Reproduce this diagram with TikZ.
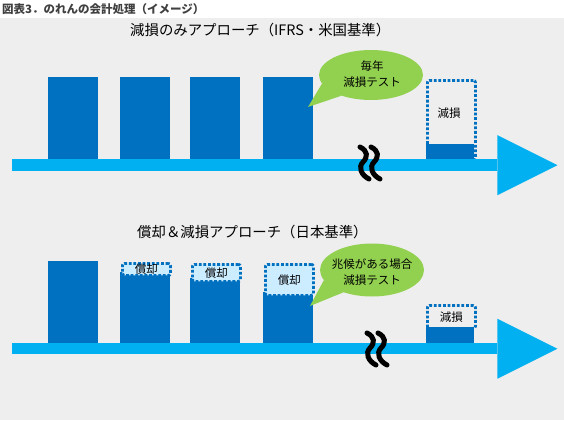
\documentclass[tikz,border=0pt]{standalone}
\usepackage{fontspec}
\setmainfont{Noto Sans CJK JP}
\usetikzlibrary{shapes.geometric}
\definecolor{bg}{HTML}{EEEEEE}
\definecolor{dblue}{HTML}{0070C0}
\definecolor{lblue}{HTML}{00B0F0}
\definecolor{pale}{HTML}{CCECFF}
\definecolor{grn}{HTML}{92D050}
\definecolor{hdr}{HTML}{404040}
\begin{document}
\begin{tikzpicture}[x=1pt,y=-1pt,
  bar/.style={rectangle, fill=dblue, draw=none, minimum width=50pt, inner sep=0pt, anchor=north west},
  dbox/.style={rectangle, rounded corners=2pt, draw=dblue, line width=2.8pt, dash pattern=on 2.8pt off 1.8pt, minimum width=48pt, inner sep=0pt, anchor=north west, font=\fontsize{11.5}{12}\selectfont},
  axisbar/.style={rectangle, fill=lblue, draw=none, minimum width=485pt, minimum height=12pt, inner sep=0pt, anchor=north west},
  balloon/.style={ellipse, fill=grn, draw=none, inner sep=0pt},
  btext/.style={align=center, font=\fontsize{11.5}{16}\selectfont, inner sep=0pt},
  ttl/.style={anchor=west, inner sep=0pt, font=\fontsize{14.4}{18}\selectfont},
  squig/.style={line width=5pt, black, line cap=round}
]
\useasboundingbox (0,0) rectangle (564,420);
\fill[white] (0,0) rectangle (564,18);
\fill[bg] (0,18) rectangle (564,420);

% header
\node[anchor=west, inner sep=0pt, text=hdr, font=\bfseries\fontsize{11.5}{12}\selectfont] (hd) at (2,9) {図表3．のれんの会計処理（イメージ）};

% ===== top panel =====
\node[ttl] (t1) at (130,30) {減損のみアプローチ（IFRS・米国基準）};
\node[bar, minimum height=82pt] (a1) at (48,77) {};
\node[bar, minimum height=82pt] (a2) at (120,77) {};
\node[bar, minimum height=82pt] (a3) at (190,77) {};
\node[bar, minimum height=82pt] (a4) at (263,77) {};
\node[dbox, minimum height=80pt] (a5) at (426,79) {};
\node[inner sep=0pt, font=\fontsize{11.5}{12}\selectfont] (a5t) at (449,113) {減損};
\node[bar, minimum width=48pt, minimum height=16pt] (a5d) at (426,144) {};
\node[axisbar] (ax1) at (12,159) {};
\fill[lblue] (ax1.east) ++(0,-30) -- ++(60,30) -- ++(-60,30) -- cycle;
\begin{scope}[shift={(357,145)}]
  \draw[squig] (3,2) .. controls (11,6) and (11,12) .. (6,17) .. controls (1,22) and (4,30) .. (12,34);
  \draw[squig] (14,2) .. controls (22,6) and (22,12) .. (17,17) .. controls (12,22) and (15,30) .. (23,34);
\end{scope}
\node[balloon, minimum width=104pt, minimum height=50pt] (s1) at (371,75) {};
\coordinate (s1tip) at (308,107);
\fill[grn] (s1tip) -- (s1.190) -- (s1.215) -- cycle;
\node[btext] (s1t) at (372,74) {毎年\\減損テスト};

% ===== bottom panel =====
\node[ttl] (t2) at (137,232) {償却＆減損アプローチ（日本基準）};
\node[bar, minimum height=82pt] (b1) at (48,261) {};
\node[bar, minimum height=71pt] (b2) at (120,272) {};
\node[bar, minimum height=65pt] (b3) at (190,278) {};
\node[bar, minimum height=51pt] (b4) at (263,292) {};
\node[dbox, fill=pale, minimum height=12pt] (b2b) at (121,262) {償却};
\node[dbox, fill=pale, minimum height=17pt] (b3b) at (191,263) {償却};
\node[dbox, fill=pale, minimum height=31pt] (b4b) at (264,263) {償却};
\node[dbox, minimum height=23pt] (b5) at (426,304) {減損};
\node[bar, minimum width=48pt, minimum height=16pt] (b5d) at (426,327) {};
\node[axisbar, minimum height=11pt] (ax2) at (12,343) {};
\fill[lblue] (ax2.east) ++(0,-30) -- ++(60,30) -- ++(-60,30) -- cycle;
\begin{scope}[shift={(364,331)}]
  \draw[squig] (3,2) .. controls (11,6) and (11,12) .. (6,17) .. controls (1,22) and (4,30) .. (12,34);
  \draw[squig] (14,2) .. controls (22,6) and (22,12) .. (17,17) .. controls (12,22) and (15,30) .. (23,34);
\end{scope}
\node[balloon, minimum width=104pt, minimum height=53pt] (s2) at (372,270) {};
\coordinate (s2tip) at (310,306);
\fill[grn] (s2tip) -- (s2.192) -- (s2.218) -- cycle;
\node[btext] (s2t) at (372,272) {兆候がある場合\\減損テスト};
\end{tikzpicture}
\end{document}
